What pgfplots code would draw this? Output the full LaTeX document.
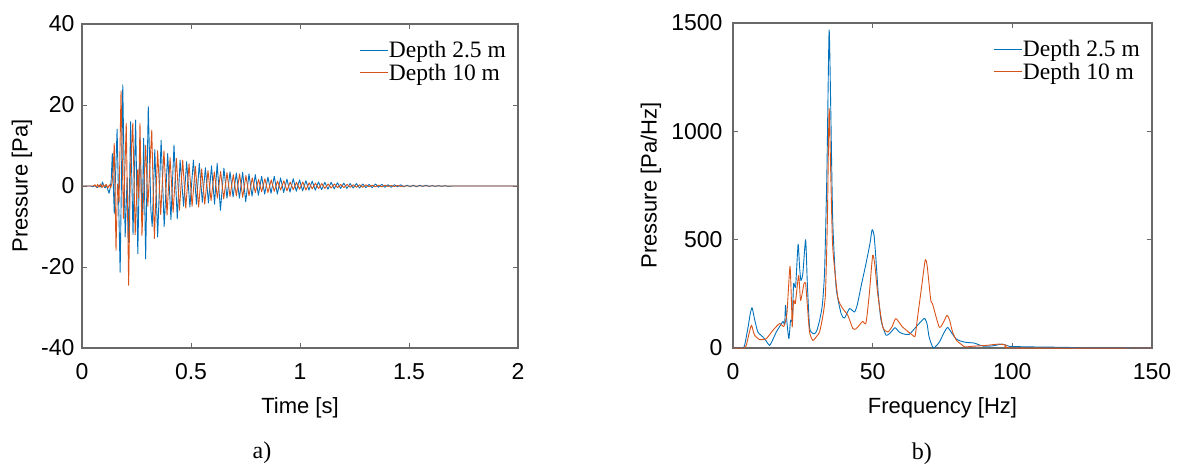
\documentclass[border=0pt]{standalone}
\usepackage{fontspec}
\setmainfont{Liberation Serif}
\newfontfamily\arialf{Liberation Sans}
\usepackage{pgfplots}
\pgfplotsset{compat=1.18}
\definecolor{mblue}{RGB}{0,114,189}
\definecolor{morange}{RGB}{217,83,25}
\definecolor{axgray}{RGB}{105,105,105}

\pgfplotsset{mystyle/.style={
  scale only axis,
  clip mode=individual,
  axis line style={axgray, line width=1.1pt},
  every tick/.style={axgray, line width=0.9pt},
  major tick length=5pt,
  tick align=inside,
  tick pos=both,
  tick label style={font=\arialf\fontsize{23}{27}\selectfont, black},
  xticklabel style={yshift=-12pt},
  yticklabel style={xshift=-4pt},
  every axis x label/.style={at={(axis description cs:0.5,-0.185)}, anchor=center, font=\arialf\fontsize{22}{26}\selectfont},
  legend style={draw=none, fill=none, inner sep=0pt, at={(1,1)}, anchor=north east,
    xshift=-11pt, yshift=-16pt, row sep=3pt,
    font=\fontsize{23.5}{28}\selectfont,
    nodes={inner sep=1pt}},
  legend cell align=left,
  legend image code/.code={\draw[#1, line width=0.9pt] (0pt,0pt) -- (28pt,0pt);},
  every axis plot/.append style={line width=0.9pt, line join=round},
}}

\begin{document}
\begin{tikzpicture}
\useasboundingbox (0,0) rectangle (1181pt,467pt);

% ---------------- a) time signal ----------------
\begin{axis}[mystyle,
  at={(82pt,119pt)}, anchor=south west,
  width=436pt, height=324pt,
  xmin=0, xmax=2, ymin=-40, ymax=40,
  xtick={0,0.5,1,1.5,2}, xticklabels={0,0.5,1,1.5,2},
  ytick={-40,-20,0,20,40}, yticklabels={-40,-20,0,20,40},
  xlabel={Time [s]}, ylabel={Pressure [Pa]},
  every axis y label/.style={at={(axis description cs:-0.138,0.5)}, rotate=90, anchor=center, font=\arialf\fontsize{22}{26}\selectfont},
]
\addplot[mblue] coordinates {
(0,0) (0.040,0) (0.050,-0.2) (0.060,0.1) (0.070,-0.4) (0.080,0.2) (0.088,-0.3) (0.094,1.0)
(0.100,0.0) (0.106,-0.5) (0.112,0.3) (0.118,-0.8) (0.124,-1.8) (0.130,-0.3) (0.134,1.5)
(0.139,8.0) (0.148,-6.8) (0.161,14.0) (0.175,-21.3) (0.187,25.0) (0.198,-12.6) (0.207,2.0)
(0.214,-14.0) (0.223,15.9) (0.234,-12.0) (0.246,16.3) (0.256,-16.7) (0.266,12.0) (0.276,-9.0)
(0.283,11.8) (0.292,-18.0) (0.304,19.6) (0.316,-6.0) (0.322,-10.0) (0.334,9.0) (0.347,-12.6)
(0.363,11.3) (0.377,-10.0) (0.393,8.0) (0.408,-8.3) (0.422,10.1) (0.437,-8.1) (0.450,6.4)
(0.466,-5.0) (0.480,6.0) (0.495,-5.2) (0.511,6.4) (0.525,-4.5) (0.538,5.6) (0.552,-4.0)
(0.566,4.5) (0.580,-4.2) (0.594,5.0) (0.608,-4.5) (0.620,5.6) (0.635,-6.0) (0.651,4.4)
(0.665,-3.0) (0.679,3.5) (0.693,-2.7) (0.708,3.2) (0.722,-3.0) (0.737,3.4) (0.751,-3.9)
(0.766,3.0) (0.780,-2.5) (0.795,2.8) (0.809,-2.3) (0.824,2.4) (0.838,-2.0) (0.853,2.2)
(0.867,-1.8) (0.882,2.4) (0.896,-2.0) (0.911,2.0) (0.925,-1.6) (0.940,1.7) (0.954,-1.5)
(0.969,1.8) (0.983,-1.3) (0.998,1.5) (1.012,-1.2) (1.027,1.3) (1.041,-1.0) (1.056,1.2)
(1.070,-1.0) (1.085,1.0) (1.099,-0.9) (1.114,0.9) (1.128,-0.8) (1.143,0.9) (1.157,-0.7)
(1.172,0.8) (1.186,-0.6) (1.201,0.7) (1.215,-0.6) (1.230,0.6) (1.244,-0.5) (1.259,0.6)
(1.273,-0.5) (1.288,0.5) (1.302,-0.4) (1.317,0.4) (1.331,-0.4) (1.346,0.5) (1.360,-0.3)
(1.375,0.4) (1.389,-0.3) (1.404,0.3) (1.418,-0.3) (1.433,0.3) (1.447,-0.2) (1.462,0.3)
(1.476,-0.2) (1.491,0.2) (1.505,-0.2) (1.520,0.2) (1.534,-0.2) (1.549,0.2) (1.563,-0.1)
(1.578,0.2) (1.592,-0.1) (1.607,0.1) (1.621,-0.1) (1.636,0.1) (1.650,-0.1) (1.665,0.1)
(1.679,-0.1) (1.700,0) (2.000,0)
};
\addlegendentry{Depth 2.5 m}
\addplot[morange] coordinates {
(0,0) (0.050,0) (0.060,0.3) (0.066,-0.3) (0.072,0.4) (0.078,-0.3) (0.085,0.5) (0.092,-0.4)
(0.098,0.3) (0.104,-0.2) (0.110,0.4) (0.118,-0.5) (0.126,0.3) (0.132,-0.4) (0.138,0.8)
(0.143,4.0) (0.148,10.5) (0.156,-15.9) (0.163,0.5) (0.170,-4.0) (0.179,23.5) (0.190,-8.0)
(0.203,15.5) (0.214,-24.5) (0.222,4.0) (0.233,15.5) (0.244,-12.0) (0.255,4.0) (0.260,-3.0)
(0.266,15.5) (0.275,-12.2) (0.292,10.0) (0.302,-5.0) (0.320,13.8) (0.332,-13.0) (0.347,8.7)
(0.361,-7.0) (0.376,8.7) (0.390,-7.2) (0.404,7.0) (0.418,-6.5) (0.433,6.8) (0.447,-6.0)
(0.462,6.4) (0.476,-5.5) (0.491,5.5) (0.505,-5.0) (0.520,4.8) (0.535,-5.2) (0.549,4.2)
(0.563,-4.5) (0.578,3.8) (0.592,-3.6) (0.607,3.5) (0.621,-3.0) (0.636,3.6) (0.650,-3.2)
(0.665,3.3) (0.679,-2.6) (0.694,2.8) (0.708,-2.4) (0.723,3.0) (0.737,-2.8) (0.752,2.6)
(0.766,-2.4) (0.781,2.0) (0.795,-1.6) (0.810,1.6) (0.824,-1.4) (0.839,1.8) (0.853,-1.6)
(0.868,1.5) (0.882,-1.3) (0.897,1.2) (0.911,-1.0) (0.926,1.3) (0.940,-1.2) (0.955,1.0)
(0.969,-0.9) (0.984,0.9) (0.998,-0.8) (1.013,1.0) (1.027,-1.0) (1.042,0.8) (1.056,-0.7)
(1.071,0.7) (1.085,-0.6) (1.100,0.6) (1.114,-0.6) (1.129,0.5) (1.143,-0.5) (1.158,0.5)
(1.172,-0.4) (1.187,0.4) (1.201,-0.4) (1.216,0.4) (1.230,-0.3) (1.245,0.3) (1.259,-0.3)
(1.274,0.3) (1.288,-0.3) (1.303,0.3) (1.317,-0.2) (1.332,0.2) (1.346,-0.2) (1.361,0.2)
(1.375,-0.2) (1.390,0.2) (1.404,-0.1) (1.419,0.1) (1.433,-0.1) (1.448,0.1) (1.462,-0.1)
(1.480,0) (2.000,0)
};
\addlegendentry{Depth 10 m}
\node[font=\fontsize{24}{28}\selectfont] at (axis description cs:0.413,-0.324) {a)};
\end{axis}

% ---------------- b) spectrum ----------------
\begin{axis}[mystyle,
  at={(733pt,119pt)}, anchor=south west,
  width=419pt, height=325pt,
  xmin=0, xmax=150, ymin=0, ymax=1500,
  xtick={0,50,100,150}, xticklabels={0,50,100,150},
  ytick={0,500,1000,1500}, yticklabels={0,500,1000,1500},
  yticklabel style={xshift=-3pt},
  xlabel={Frequency [Hz]}, ylabel={Pressure [Pa/Hz]},
  every axis y label/.style={at={(axis description cs:-0.196,0.5)}, rotate=90, anchor=center, font=\arialf\fontsize{22}{26}\selectfont},
]
\addlegendimage{mblue, line width=0.9pt}
\addlegendentry{Depth 2.5 m}
\addlegendimage{morange, line width=0.9pt}
\addlegendentry{Depth 10 m}
\addplot[mblue, smooth, tension=0.35, forget plot] coordinates {
(0,0) (3.5,0) (4.2,15) (5.4,97) (6.2,160) (6.8,186) (7.3,160) (7.8,128) (8.9,74) (10.7,51)
(12,30) (13.1,12) (14.3,40) (15.5,74) (17,105) (17.9,123) (18.5,110) (18.8,197) (19.3,120)
(20.0,43) (20.6,128) (21.2,128) (21.7,297) (22.4,282) (23.3,479) (23.8,380) (24.3,312)
(25,343) (26,500) (26.6,300) (27.4,97) (28.3,70) (29.2,66) (30,80) (31,128) (32,200)
(32.8,359) (33.6,800) (34.4,1466) (35,1100) (35.7,589) (36.9,282) (38.7,159) (39.9,138)
(41.7,182) (43.5,166) (44.5,200) (45.8,282) (47.6,389) (49,480) (49.8,546) (50.5,520)
(51.2,405) (52,250) (53,128) (54.8,59) (56.6,74) (58,94) (59.5,74) (61,65) (63.1,63)
(65.5,97) (67.5,125) (68.6,137) (69.5,110) (70.2,51) (71.7,0) (73.8,26) (75.5,70) (76.8,95)
(78,75) (79.8,43) (81.5,32) (83.4,26) (86.3,23) (88,15) (89.9,8) (93,10) (96.4,18) (98.8,8)
(103,6) (107,5) (119,3) (125,1) (150,0)
};
\addplot[morange, smooth, tension=0.35, forget plot] coordinates {
(0,0) (4,0) (4.8,15) (5.8,70) (6.6,105) (7.2,80) (7.75,59) (9.5,39) (11.9,43) (14.3,82)
(16.7,113) (18.2,100) (19.3,159) (20.4,377) (21.0,180) (21.2,97) (21.7,220) (22.3,205)
(23.5,335) (24.2,220) (25.4,297) (26,297) (26.6,200) (27.4,74) (28.6,35) (30,55) (31,74)
(32.2,150) (33.1,251) (33.8,600) (34.4,1105) (35,800) (35.7,466) (37.5,235) (39.3,182)
(41.1,151) (42.9,90) (44,88) (45.2,105) (46.4,123) (47.6,115) (48.8,250) (50,428) (50.8,380)
(51.8,251) (53.6,97) (55.4,74) (57,100) (58.3,136) (60.7,97) (64.3,59) (65.2,55) (66.1,145)
(67.5,280) (68.8,405) (69.5,380) (70.8,220) (71.4,205) (73.8,97) (75.2,115) (76.6,151)
(77.5,130) (78.6,74) (80,35) (81.6,18) (83,5) (85.7,8) (90.5,12) (95.2,18) (98,12) (100,0)
(150,0)
};
\node[font=\fontsize{24}{28}\selectfont] at (axis description cs:0.451,-0.324) {b)};
\end{axis}
\end{tikzpicture}
\end{document}
